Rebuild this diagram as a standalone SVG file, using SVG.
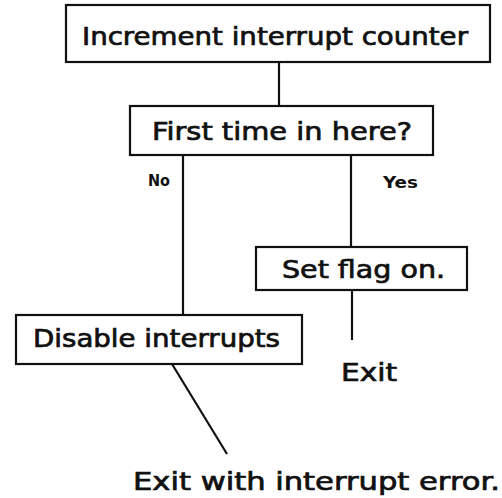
<svg xmlns="http://www.w3.org/2000/svg" width="502" height="498" viewBox="0 0 502 498">
  <style>
    .box { fill: #ffffff; stroke: #111111; stroke-width: 2.2; }
    .link { stroke: #111111; stroke-width: 2.2; fill: none; }
    .lbl { font-family: "DejaVu Sans", "Liberation Sans", sans-serif; font-size: 24px; fill: #111111; stroke: #111111; stroke-width: 0.7; }
    .tag { font-family: "DejaVu Sans", "Liberation Sans", sans-serif; font-size: 16px; font-weight: bold; fill: #111111; }
  </style>
  <rect width="502" height="498" fill="#ffffff"/>

  <g id="connectors">
    <line class="link" x1="279" y1="62" x2="279" y2="106"/>
    <line class="link" x1="183" y1="155" x2="183" y2="315"/>
    <line class="link" x1="351" y1="155" x2="351" y2="247"/>
    <line class="link" x1="352" y1="290" x2="352" y2="340"/>
    <line class="link" x1="172" y1="364" x2="227" y2="454"/>
    <text class="tag" x="148" y="186" textLength="22" lengthAdjust="spacingAndGlyphs">No</text>
    <text class="tag" x="383" y="188" textLength="35" lengthAdjust="spacingAndGlyphs">Yes</text>
  </g>

  <g id="increment">
    <rect class="box" x="66" y="5" width="424" height="57"/>
    <text class="lbl" x="82" y="45" textLength="386" lengthAdjust="spacingAndGlyphs">Increment interrupt counter</text>
  </g>

  <g id="first-time">
    <rect class="box" x="130" y="106" width="303" height="49"/>
    <text class="lbl" x="152" y="140" textLength="260" lengthAdjust="spacingAndGlyphs">First time in here?</text>
  </g>

  <g id="set-flag">
    <rect class="box" x="256" y="247" width="211" height="43"/>
    <text class="lbl" x="282" y="278" textLength="163" lengthAdjust="spacingAndGlyphs">Set flag on.</text>
  </g>

  <g id="disable">
    <rect class="box" x="16" y="315" width="286" height="49"/>
    <text class="lbl" x="33" y="347" textLength="247" lengthAdjust="spacingAndGlyphs">Disable interrupts</text>
  </g>

  <g id="exit">
    <text class="lbl" x="341" y="381" textLength="56" lengthAdjust="spacingAndGlyphs">Exit</text>
  </g>

  <g id="exit-error">
    <text class="lbl" x="133" y="490" textLength="367" lengthAdjust="spacingAndGlyphs">Exit with interrupt error.</text>
  </g>
</svg>
